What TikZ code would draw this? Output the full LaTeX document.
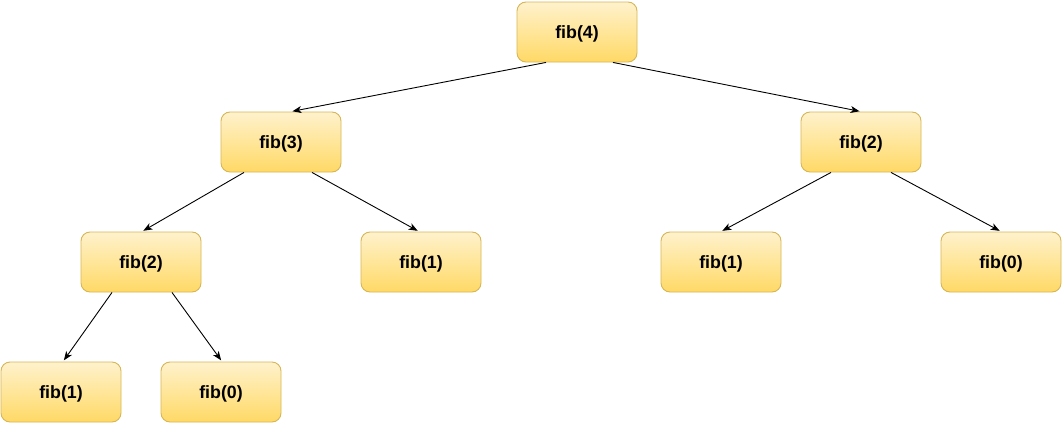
\documentclass[tikz,border=0pt]{standalone}
\usepackage{fontspec}
\setmainfont{Liberation Sans}
\usetikzlibrary{arrows.meta}
\definecolor{fillTop}{HTML}{FFF2CC}
\definecolor{fillBot}{HTML}{FFD966}
\definecolor{boxLine}{HTML}{D6B656}
\begin{document}
\begin{tikzpicture}[x=1pt,y=-1pt,
  fibbox/.style={draw=boxLine, line width=0.9pt, rounded corners=9pt,
    top color=fillTop, bottom color=fillBot, minimum width=120pt, minimum height=60pt,
    inner sep=0pt, text height=17pt, text depth=3.8pt,
    font=\fontsize{17.8}{19}\selectfont\bfseries},
  link/.style={draw=black, line width=0.9pt, -{Stealth[length=9pt,width=7pt,inset=2.5pt]}, shorten >=1.5pt}]
\useasboundingbox (0,0) rectangle (1063,423);
\node[fibbox] (f4) at (577,32) {fib(4)};
\node[fibbox] (f3) at (281,142) {fib(3)};
\node[fibbox] (f2r) at (861,142) {fib(2)};
\node[fibbox] (f2l) at (141,262) {fib(2)};
\node[fibbox] (f1m) at (421,262) {fib(1)};
\node[fibbox] (f1r) at (721,262) {fib(1)};
\node[fibbox] (f0r) at (1001,262) {fib(0)};
\node[fibbox] (f1b) at (61,392) {fib(1)};
\node[fibbox] (f0b) at (221,392) {fib(0)};
\draw[link] ([xshift=-31pt]f4.south) -- ([xshift=10pt]f3.north);
\draw[link] ([xshift=36pt]f4.south) -- (f2r.north);
\draw[link] ([xshift=-37pt]f3.south) -- ([xshift=1pt]f2l.north);
\draw[link] ([xshift=31pt]f3.south) -- ([xshift=-2pt]f1m.north);
\draw[link] ([xshift=-30pt]f2r.south) -- (f1r.north);
\draw[link] ([xshift=30pt]f2r.south) -- (f0r.north);
\draw[link] ([xshift=-29pt]f2l.south) -- ([xshift=2pt]f1b.north);
\draw[link] ([xshift=31pt]f2l.south) -- ([xshift=1pt]f0b.north);
\end{tikzpicture}
\end{document}
